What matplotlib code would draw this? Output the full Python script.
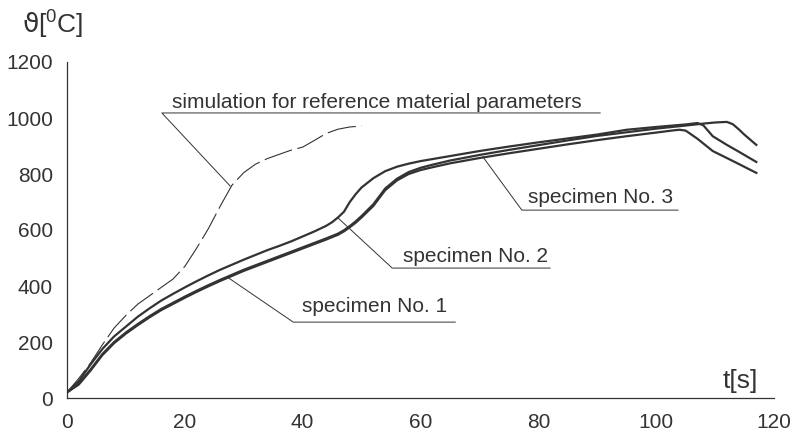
import numpy as np
import matplotlib
matplotlib.use("Agg")
import matplotlib.pyplot as plt

plt.rcParams['font.family'] = ['Liberation Sans', 'DejaVu Sans']

# time [s] and temperature [deg C]
t_sim = [0, 2, 4, 6, 8, 10, 12, 14, 16, 18, 20, 22, 24, 26, 28, 30, 32, 34, 36,
         38, 40, 42, 44, 46, 48, 50]
T_sim = [20, 70, 125, 190, 250, 295, 335, 365, 395, 425, 470, 535, 605, 685,
         760, 805, 835, 855, 870, 885, 896, 920, 945, 960, 968, 971]

t_s1 = [0, 2, 4, 6, 8, 10, 12, 14, 16, 18, 20, 22, 24, 26, 28, 30, 32, 34, 36,
        38, 40, 42, 44, 46, 47, 48, 49, 50, 52, 54, 56, 58, 60, 62, 65, 70, 75,
        80, 85, 90, 95, 100, 105, 108, 110, 112, 113, 114, 115, 116, 117]
T_s1 = [20, 52, 102, 157, 200, 234, 264, 292, 318, 340, 362, 383, 403, 422,
        440, 458, 474, 490, 506, 522, 538, 554, 570, 587, 599, 614, 631, 650,
        692, 748, 783, 807, 822, 833, 848, 868, 886, 903, 920, 936, 949, 962,
        973, 980, 984, 986, 978, 960, 940, 922, 904]

t_s2 = [0, 2, 4, 6, 8, 10, 12, 14, 16, 18, 20, 22, 24, 26, 28, 30, 32, 34, 36,
        38, 40, 42, 44, 45, 46, 47, 48, 49, 50, 52, 54, 56, 58, 60, 65, 70, 75,
        80, 85, 90, 95, 100, 105, 107, 108, 109.6, 112, 114, 117]
T_s2 = [20, 60, 120, 175, 220, 255, 290, 320, 348, 372, 395, 417, 438, 458,
        476, 494, 511, 528, 543, 559, 577, 595, 615, 628, 645, 665, 700, 728,
        752, 785, 810, 826, 837, 846, 864, 882, 898, 913, 927, 941, 958, 968,
        977, 982, 974, 935, 904, 880, 843]

t_s3 = [0, 2, 4, 6, 8, 10, 12, 14, 16, 18, 20, 22, 24, 26, 28, 30, 32, 34, 36,
        38, 40, 42, 44, 46, 47, 48, 49, 50, 52, 54, 56, 58, 60, 62, 65, 70, 75,
        80, 85, 90, 95, 100, 103, 104, 105, 107, 109.6, 112, 114, 117]
T_s3 = [20, 48, 98, 153, 196, 230, 260, 288, 314, 336, 358, 379, 399, 418,
        436, 454, 470, 486, 502, 518, 534, 550, 566, 583, 595, 610, 626, 645,
        686, 742, 777, 800, 814, 824, 838, 857, 874, 890, 906, 921, 935, 948,
        956, 958, 955, 926, 882, 857, 836, 804]

x_ticks = [0, 20, 40, 60, 80, 100, 120]
y_ticks = [0, 200, 400, 600, 800, 1000, 1200]

ink = '#333333'

fig = plt.figure(figsize=(7.93, 4.36), dpi=100)
ax = fig.add_axes([67 / 793, 1 - 398 / 436, 707 / 793, 336 / 436])

ax.plot(t_sim, T_sim, color=ink, lw=0.8, dashes=(26, 5), solid_capstyle='butt')
for t, T in [(t_s1, T_s1), (t_s2, T_s2), (t_s3, T_s3)]:
    ax.plot(t, T, color=ink, lw=1.6)

ax.set_xlim(0, 120)
ax.set_ylim(0, 1200)
ax.set_xticks(x_ticks)
ax.set_yticks(y_ticks)
ax.tick_params(length=0, labelsize=15, colors=ink)
ax.tick_params(axis='y', pad=10)
ax.tick_params(axis='x', pad=11)
for s in ['top', 'right']:
    ax.spines[s].set_visible(False)
for s in ['left', 'bottom']:
    ax.spines[s].set_color(ink)
    ax.spines[s].set_linewidth(0.9)

# leader lines + labels
lw_lead = 0.7
fs = 15
ax.plot([27.7, 16.1, 90.5], [757, 1018, 1018], color=ink, lw=lw_lead)
ax.text(17.9, 1036, 'simulation for reference material parameters',
        fontsize=fs, color=ink)
ax.plot([70.6, 77.2, 103.7], [861, 671, 671], color=ink, lw=lw_lead)
ax.text(78.2, 696, 'specimen No. 3', fontsize=fs, color=ink)
ax.plot([46, 55.2, 82], [643, 464, 464], color=ink, lw=lw_lead)
ax.text(57, 486, 'specimen No. 2', fontsize=fs, color=ink)
ax.plot([27.2, 38.4, 65.9], [432, 271, 271], color=ink, lw=lw_lead)
ax.text(39.9, 307, 'specimen No. 1', fontsize=fs, color=ink)

fig.text(22 / 793, 1 - 33 / 436, r'$\mathrm{\vartheta}$[$^{\mathregular{0}}$C]',
         fontsize=19, color=ink)
ax.text(111.3, 36, 't[s]', fontsize=19, color=ink)

fig.savefig('out.png', dpi=100)
